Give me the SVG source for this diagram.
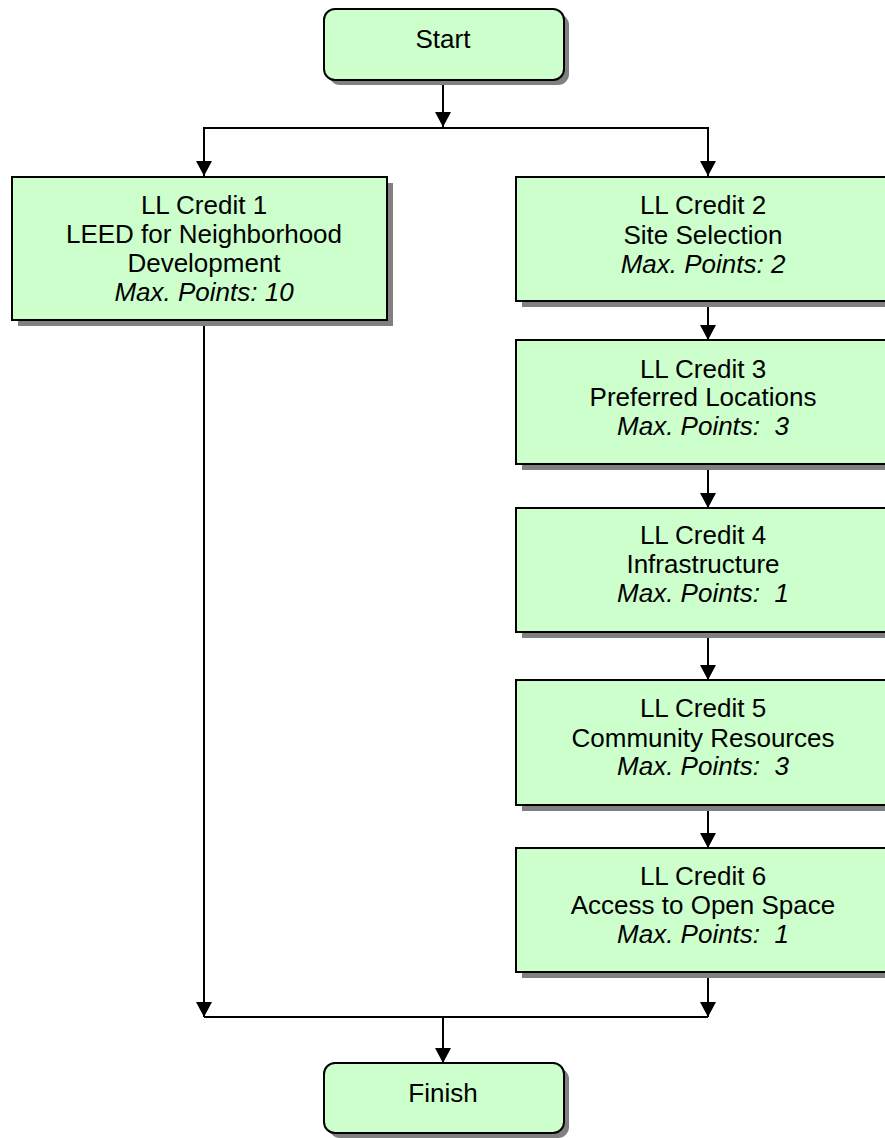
<svg xmlns="http://www.w3.org/2000/svg" width="885" height="1138" viewBox="0 0 885 1138">
<style>
.box{fill:#CCFFCC;stroke:#000;stroke-width:2}
.sh{fill:#808080}
.t{font-family:"Liberation Sans",Arial,sans-serif;font-size:26px;fill:#000;text-anchor:middle}
.i{font-style:italic}
.c{fill:none;stroke:#000;stroke-width:2}
</style>
<defs>
<marker id="ah" markerUnits="userSpaceOnUse" markerWidth="16" markerHeight="16" refX="15" refY="8" orient="auto">
<path d="M0,0 L15,8 L0,16 z" fill="#000"/>
</marker>
</defs>
<rect width="885" height="1138" fill="#fff"/>
<g id="connectors">
<line class="c" x1="443" y1="80" x2="443" y2="127" marker-end="url(#ah)"/>
<polyline class="c" points="204,150 204,128 708,128 708,150"/>
<line class="c" x1="204" y1="128" x2="204" y2="176" marker-end="url(#ah)"/>
<line class="c" x1="708" y1="128" x2="708" y2="176" marker-end="url(#ah)"/>
<line class="c" x1="708" y1="296" x2="708" y2="340" marker-end="url(#ah)"/>
<line class="c" x1="708" y1="464" x2="708" y2="508" marker-end="url(#ah)"/>
<line class="c" x1="708" y1="632" x2="708" y2="680" marker-end="url(#ah)"/>
<line class="c" x1="708" y1="800" x2="708" y2="848" marker-end="url(#ah)"/>
<line class="c" x1="204" y1="320" x2="204" y2="1017" marker-end="url(#ah)"/>
<line class="c" x1="708" y1="968" x2="708" y2="1017" marker-end="url(#ah)"/>
<line class="c" x1="204" y1="1017" x2="708" y2="1017"/>
<line class="c" x1="443" y1="1017" x2="443" y2="1063" marker-end="url(#ah)"/>
</g>
<g id="start">
<rect class="sh" x="329" y="14" width="240" height="71" rx="11"/>
<rect class="box" x="324" y="9" width="240" height="71" rx="11"/>
<text class="t" x="443" y="48">Start</text>
</g>
<g id="credit1">
<rect class="sh" x="18" y="183" width="375" height="143"/>
<rect class="box" x="12" y="177" width="375" height="143"/>
<text class="t" x="204" y="214">LL Credit 1</text>
<text class="t" x="204" y="243">LEED for Neighborhood</text>
<text class="t" x="204" y="272">Development</text>
<text class="t i" x="204" y="301">Max. Points: 10</text>
</g>
<g id="credit2">
<rect class="sh" x="522" y="183" width="380" height="124"/>
<rect class="box" x="516" y="177" width="380" height="124"/>
<text class="t" x="703" y="214">LL Credit 2</text>
<text class="t" x="703" y="244">Site Selection</text>
<text class="t i" x="703" y="273">Max. Points: 2</text>
</g>
<g id="credit3">
<rect class="sh" x="522" y="346" width="380" height="124"/>
<rect class="box" x="516" y="340" width="380" height="124"/>
<text class="t" x="703" y="378">LL Credit 3</text>
<text class="t" x="703" y="406">Preferred Locations</text>
<text class="t i" x="703" y="435" xml:space="preserve">Max. Points:  3</text>
</g>
<g id="credit4">
<rect class="sh" x="522" y="514" width="380" height="124"/>
<rect class="box" x="516" y="508" width="380" height="124"/>
<text class="t" x="703" y="544">LL Credit 4</text>
<text class="t" x="703" y="573">Infrastructure</text>
<text class="t i" x="703" y="602" xml:space="preserve">Max. Points:  1</text>
</g>
<g id="credit5">
<rect class="sh" x="522" y="686" width="380" height="125"/>
<rect class="box" x="516" y="680" width="380" height="125"/>
<text class="t" x="703" y="717">LL Credit 5</text>
<text class="t" x="703" y="747">Community Resources</text>
<text class="t i" x="703" y="775" xml:space="preserve">Max. Points:  3</text>
</g>
<g id="credit6">
<rect class="sh" x="522" y="854" width="380" height="124"/>
<rect class="box" x="516" y="848" width="380" height="124"/>
<text class="t" x="703" y="885">LL Credit 6</text>
<text class="t" x="703" y="914">Access to Open Space</text>
<text class="t i" x="703" y="943" xml:space="preserve">Max. Points:  1</text>
</g>
<g id="finish">
<rect class="sh" x="329" y="1068" width="240" height="70" rx="11"/>
<rect class="box" x="324" y="1063" width="240" height="70" rx="11"/>
<text class="t" x="443" y="1102">Finish</text>
</g>
</svg>
